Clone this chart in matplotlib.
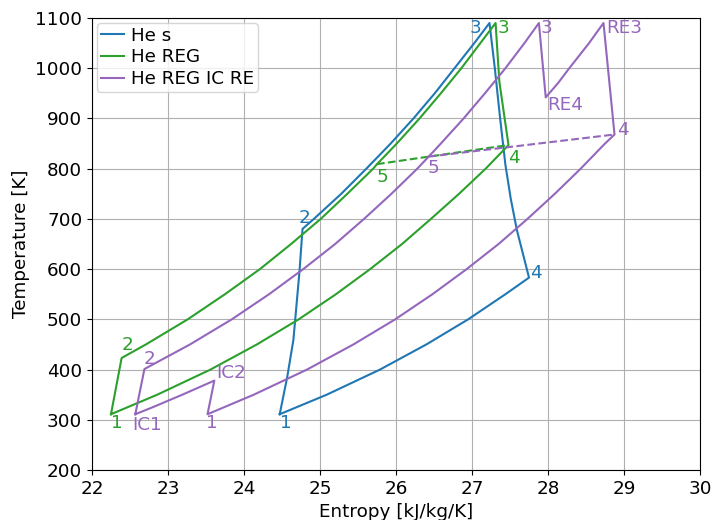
import matplotlib
matplotlib.use('Agg')
import matplotlib.pyplot as plt
import numpy as np

# ---------------- data ----------------
# He s : simple cycle
hes_comp_s = [24.47, 24.57, 24.65, 24.73, 24.77]
hes_comp_T = [311, 386, 459, 595, 680]
hes_heat_s = [24.77, 24.92, 25.28, 25.61, 25.93, 26.23, 26.51, 26.77, 27.03, 27.23]
hes_heat_T = [680, 700, 750, 800, 850, 900, 950, 1000, 1050, 1090]
hes_exp_s = [27.23, 27.30, 27.37, 27.44, 27.51, 27.59, 27.75]
hes_exp_T = [1090, 1000, 900, 807, 740, 678, 583]
hes_cool_s = [27.75, 27.44, 26.95, 26.40, 25.79, 25.09, 24.47]
hes_cool_T = [583, 550, 500, 450, 400, 350, 311]
hes_state_names = ["1", "2", "3", "4"]
hes_state_s = [24.47, 24.77, 27.23, 27.75]
hes_state_T = [311, 680, 1090, 583]

# He REG : regenerated cycle
reg_comp_s = [22.25, 22.39]
reg_comp_T = [311, 423]
reg_heat_s = [22.39, 22.71, 23.26, 23.75, 24.21, 24.62, 25.01, 25.36, 25.70, 25.75,
              26.01, 26.31, 26.59, 26.86, 27.11, 27.31]
reg_heat_T = [423, 450, 500, 550, 600, 650, 700, 750, 800, 809,
              850, 900, 950, 1000, 1050, 1090]
reg_exp_s = [27.31, 27.36, 27.48]
reg_exp_T = [1090, 973, 847]
reg_cool_s = [27.48, 27.18, 26.83, 26.46, 26.08, 25.66, 25.21, 24.72, 24.17, 23.56, 22.86, 22.25]
reg_cool_T = [847, 800, 750, 700, 650, 600, 550, 500, 450, 400, 350, 311]
reg_regen_s = [25.75, 27.48]
reg_regen_T = [809, 847]
reg_state_names = ["1", "2", "3", "4", "5"]
reg_state_s = [22.25, 22.39, 27.31, 27.48, 25.75]
reg_state_T = [311, 423, 1090, 847, 809]

# He REG IC RE : regenerated, intercooled, reheated cycle
icre_comp1_s = [22.57, 22.69]
icre_comp1_T = [311, 401]
icre_heat_s = [22.69, 23.29, 23.84, 24.33, 24.78, 25.20, 25.58, 25.94, 26.28, 26.43,
               26.59, 26.89, 27.17, 27.44, 27.69, 27.88]
icre_heat_T = [401, 450, 500, 550, 600, 650, 700, 750, 800, 824,
               850, 900, 950, 1000, 1050, 1090]
icre_exp1_s = [27.88, 27.97]
icre_exp1_T = [1090, 942]
icre_reheat_s = [27.97, 28.13, 28.28, 28.54, 28.73]
icre_reheat_T = [942, 970, 1000, 1050, 1090]
icre_exp2_s = [28.73, 28.875]
icre_exp2_T = [1090, 868]
icre_cool_s = [28.875, 28.75, 28.43, 28.09, 27.73, 27.35, 26.93, 26.48, 25.99, 25.44,
               24.83, 24.13, 23.52]
icre_cool_T = [868, 850, 800, 750, 700, 650, 600, 550, 500, 450, 400, 350, 311]
icre_comp2_s = [23.52, 23.61]
icre_comp2_T = [311, 378]
icre_ic_s = [23.61, 23.19, 22.80, 22.57]
icre_ic_T = [378, 350, 325, 311]
icre_regen_s = [26.43, 28.875]
icre_regen_T = [824, 868]
icre_state_names = ["IC1", "2", "IC2", "1", "3", "RE4", "RE3", "4", "5"]
icre_state_s = [22.57, 22.69, 23.61, 23.52, 27.88, 27.97, 28.73, 28.875, 26.43]
icre_state_T = [311, 401, 378, 311, 1090, 942, 1090, 868, 824]

series_names = ["He s", "He REG", "He REG IC RE"]
x_ticks = [22, 23, 24, 25, 26, 27, 28, 29, 30]
y_ticks = [200, 300, 400, 500, 600, 700, 800, 900, 1000, 1100]

# ---------------- layout / style ----------------
C_BLUE, C_GREEN, C_PURPLE = "#1f77b4", "#2ca02c", "#9467bd"
FS = 13.2
# label offsets (ds, dT) relative to each state point
hes_off = [(0.01, -28), (-0.05, 12), (-0.265, -20), (0.01, -1)]
reg_off = [(0.0, -28), (0.0, 15), (0.02, -20), (0.0, -36), (0.0, -35)]
icre_off = [(-0.04, -31), (-0.01, 10), (0.03, 5), (-0.02, -28), (0.02, -20),
            (0.02, -25), (0.04, -20), (0.035, -1), (-0.01, -33)]


def join(*segs):
    s = np.concatenate([np.asarray(a, float) for a in segs[0::2]])
    t = np.concatenate([np.asarray(b, float) for b in segs[1::2]])
    return s, t


fig = plt.figure(figsize=(7.13, 5.2), dpi=100)
ax = fig.add_axes([0.129, 0.0962, 0.8528, 0.8692])

s, t = join(hes_comp_s, hes_comp_T, hes_heat_s, hes_heat_T,
            hes_exp_s, hes_exp_T, hes_cool_s, hes_cool_T)
ax.plot(s, t, color=C_BLUE, lw=1.5, label=series_names[0])

s, t = join(reg_comp_s, reg_comp_T, reg_heat_s, reg_heat_T,
            reg_exp_s, reg_exp_T, reg_cool_s, reg_cool_T)
ax.plot(s, t, color=C_GREEN, lw=1.5, label=series_names[1])
ax.plot(reg_regen_s, reg_regen_T, color=C_GREEN, lw=1.5, ls='--')

s, t = join(icre_comp1_s, icre_comp1_T, icre_heat_s, icre_heat_T,
            icre_exp1_s, icre_exp1_T, icre_reheat_s, icre_reheat_T,
            icre_exp2_s, icre_exp2_T, icre_cool_s, icre_cool_T,
            icre_comp2_s, icre_comp2_T, icre_ic_s, icre_ic_T)
ax.plot(s, t, color=C_PURPLE, lw=1.5, label=series_names[2])
ax.plot(icre_regen_s, icre_regen_T, color=C_PURPLE, lw=1.5, ls='--')

for names, ss, tt, offs, col in [
        (hes_state_names, hes_state_s, hes_state_T, hes_off, C_BLUE),
        (reg_state_names, reg_state_s, reg_state_T, reg_off, C_GREEN),
        (icre_state_names, icre_state_s, icre_state_T, icre_off, C_PURPLE)]:
    for n, x, y, (dx, dy) in zip(names, ss, tt, offs):
        ax.text(x + dx, y + dy, n, color=col, fontsize=FS, ha='left', va='baseline')

ax.set_xlim(22, 30)
ax.set_ylim(200, 1100)
ax.set_xticks(x_ticks)
ax.set_yticks(y_ticks)
ax.tick_params(labelsize=FS)
ax.grid(True, color='#b0b0b0', lw=0.8)
ax.set_xlabel("Entropy [kJ/kg/K]", fontsize=FS)
ax.set_ylabel("Temperature [K]", fontsize=FS)
ax.legend(loc='upper left', fontsize=FS, handlelength=1.27, handletextpad=0.4,
          borderpad=0.2, borderaxespad=0.27, labelspacing=0.2)

fig.savefig("out.png", dpi=100)
